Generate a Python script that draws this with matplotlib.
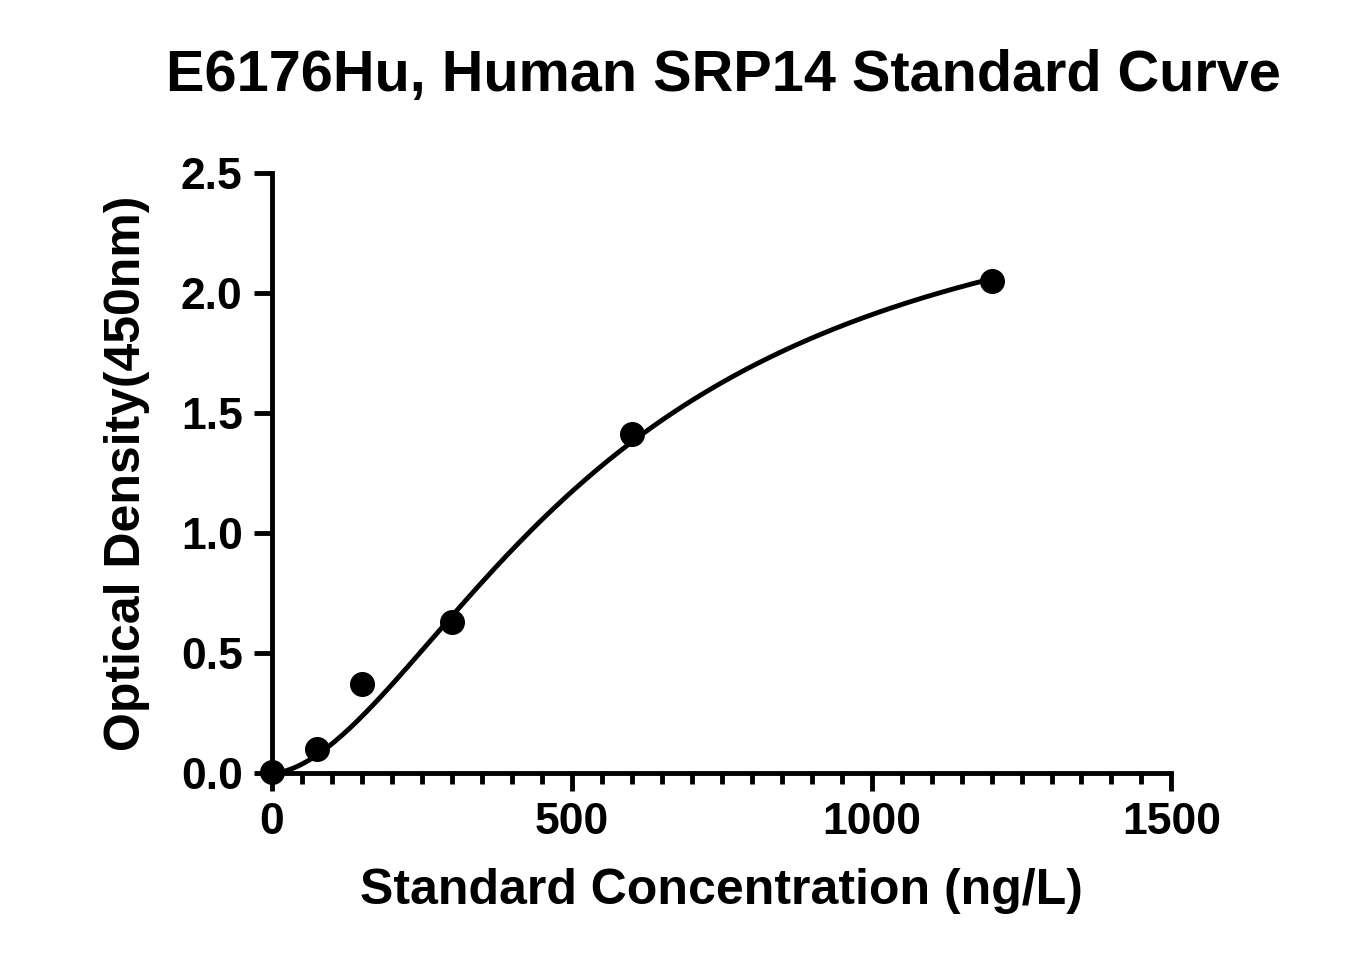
import numpy as np
import matplotlib
matplotlib.use("Agg")
import matplotlib.pyplot as plt
from matplotlib.ticker import MultipleLocator

conc = [0, 75, 150, 300, 600, 1200]
od = [0.005, 0.10, 0.37, 0.63, 1.41, 2.05]
# 4PL fit parameters (bottom, top, EC50, slope)
fit_params = [0.0, 2.6, 560.0, 1.75]

plt.rcParams['font.family'] = ['Liberation Sans', 'DejaVu Sans']
plt.rcParams['font.weight'] = 'bold'
fig = plt.figure(figsize=(13.59, 9.75), dpi=100)
ax = fig.add_axes([0.2, 0.207, 0.662, 0.616])

A, D, C, B = fit_params
xs = np.linspace(0, max(conc), 400)
r = (xs / C) ** B
ax.plot(xs, A + (D - A) * r / (1 + r), color='black', lw=3.5)
ax.plot(conc, od, 'o', color='black', ms=17)

ax.set_xlim(0, 1500)
ax.set_ylim(0, 2.5)
ax.xaxis.set_major_locator(MultipleLocator(500))
ax.xaxis.set_minor_locator(MultipleLocator(50))
ax.yaxis.set_major_locator(MultipleLocator(0.5))
ax.yaxis.set_major_formatter(matplotlib.ticker.FormatStrFormatter('%.1f'))
for s in ['top', 'right']:
    ax.spines[s].set_visible(False)
for s in ['left', 'bottom']:
    ax.spines[s].set_linewidth(3.5)
ax.tick_params(which='major', length=13, width=3.5, labelsize=32, pad=8)
ax.tick_params(axis='x', which='minor', length=8, width=3.5)
for lab in ax.get_xticklabels() + ax.get_yticklabels():
    lab.set_fontweight('bold')
for art in ax.lines:
    art.set_clip_on(False)

ax.set_xlabel('Standard Concentration (ng/L)', fontsize=36, fontweight='bold', labelpad=18)
ax.set_ylabel('Optical Density(450nm)', fontsize=36, fontweight='bold', labelpad=22)
fig.text(0.532, 0.922, 'E6176Hu, Human SRP14 Standard Curve', ha='center', va='center',
         fontsize=41.5, fontweight='bold')
fig.savefig('out.png', dpi=100)
